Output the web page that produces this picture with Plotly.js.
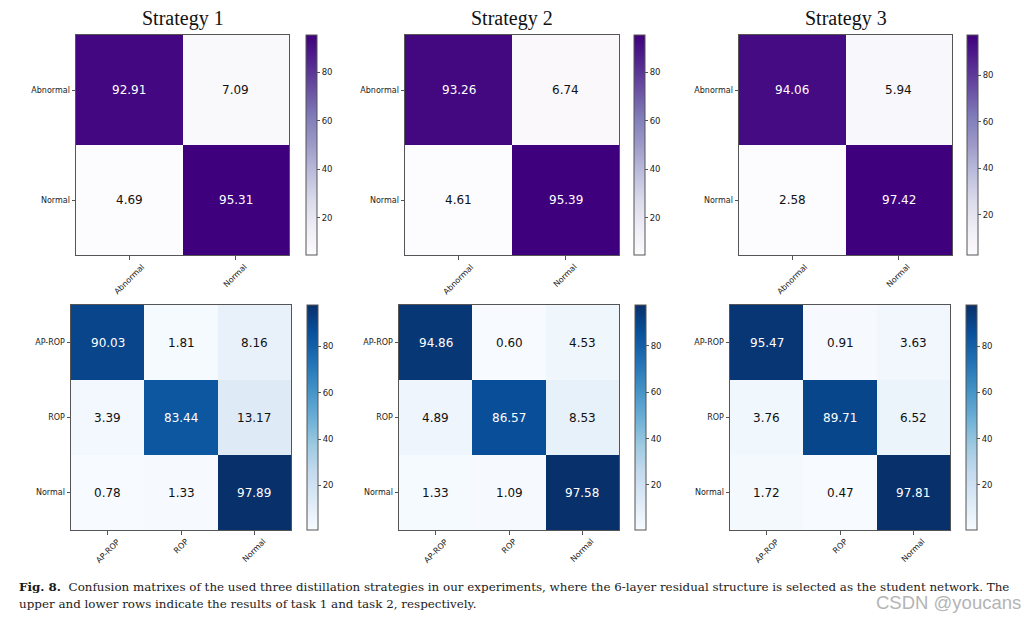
<!DOCTYPE html>
<html>
<head>
<meta charset="utf-8">
<script src="https://cdn.plot.ly/plotly-3.0.1.min.js"></script>
<style>html,body{margin:0;padding:0;background:#fff;}#chart{width:1024px;height:620px;}</style>
</head>
<body>
<div id="chart"></div>
<script>
// ---- data ----
const strategyTitles = ['Strategy 1', 'Strategy 2', 'Strategy 3'];
const task1Labels = ['Abnormal', 'Normal'];
const task2Labels = ['AP-ROP', 'ROP', 'Normal'];
const s1Task1 = [[92.91, 7.09], [4.69, 95.31]];
const s2Task1 = [[93.26, 6.74], [4.61, 95.39]];
const s3Task1 = [[94.06, 5.94], [2.58, 97.42]];
const s1Task2 = [[90.03, 1.81, 8.16], [3.39, 83.44, 13.17], [0.78, 1.33, 97.89]];
const s2Task2 = [[94.86, 0.60, 4.53], [4.89, 86.57, 8.53], [1.33, 1.09, 97.58]];
const s3Task2 = [[95.47, 0.91, 3.63], [3.76, 89.71, 6.52], [1.72, 0.47, 97.81]];
const colorbarTicks = [20, 40, 60, 80];
const captionLabel = 'Fig. 8.';
const captionLine1 = 'Confusion matrixes of the used three distillation strategies in our experiments, where the 6-layer residual structure is selected as the student network. The';
const captionLine2 = 'upper and lower rows indicate the results of task 1 and task 2, respectively.';
const watermark = 'CSDN @youcans';

// ---- layout geometry (pixels) ----
const W = 1024, H = 620;
const purples = [[0,'#fcfbfd'],[0.125,'#efedf5'],[0.25,'#dadaeb'],[0.375,'#bcbddc'],[0.5,'#9e9ac8'],[0.625,'#807dba'],[0.75,'#6a51a3'],[0.875,'#54278f'],[1,'#3f007d']];
const blues = [[0,'#f7fbff'],[0.125,'#deebf7'],[0.25,'#c6dbef'],[0.375,'#9ecae1'],[0.5,'#6baed6'],[0.625,'#4292c6'],[0.75,'#2171b5'],[0.875,'#08519c'],[1,'#08306b']];

const panels = [
  {z: s1Task1, labels: task1Labels, cs: purples, box: [76, 289, 35, 255], cb: 306},
  {z: s2Task1, labels: task1Labels, cs: purples, box: [405, 619, 35, 255], cb: 634},
  {z: s3Task1, labels: task1Labels, cs: purples, box: [739, 952, 35, 255], cb: 967},
  {z: s1Task2, labels: task2Labels, cs: blues, box: [71, 291, 305, 530], cb: 307},
  {z: s2Task2, labels: task2Labels, cs: blues, box: [399, 619, 305, 530], cb: 635},
  {z: s3Task2, labels: task2Labels, cs: blues, box: [730, 950, 305, 530], cb: 966}
];

const traces = [];
const layout = {
  width: W, height: H,
  margin: {l: 0, r: 0, t: 0, b: 0},
  paper_bgcolor: '#fff', plot_bgcolor: '#fff',
  showlegend: false,
  font: {family: 'DejaVu Sans', color: '#222'},
  annotations: []
};

panels.forEach((p, i) => {
  const n = i + 1;
  const xa = 'x' + (n === 1 ? '' : n), ya = 'y' + (n === 1 ? '' : n);
  const [l, r, t, b] = p.box;
  const flat = p.z.flat();
  const zmin = Math.min(...flat), zmax = Math.max(...flat);
  traces.push({
    type: 'heatmap',
    x: p.labels, y: p.labels, z: p.z,
    xaxis: xa, yaxis: ya,
    colorscale: p.cs, zmin: zmin, zmax: zmax,
    hoverinfo: 'skip',
    colorbar: {
      x: p.cb / W, xanchor: 'left', xpad: 0,
      y: 1 - (t + b) / 2 / H, yanchor: 'middle', ypad: 0,
      len: b - t, lenmode: 'pixels',
      thickness: 11, thicknessmode: 'pixels',
      outlinewidth: 1, outlinecolor: '#555',
      ticks: 'outside', ticklen: 3, tickcolor: '#555',
      tickvals: colorbarTicks,
      tickfont: {size: 8.5, family: 'DejaVu Sans', color: '#222'}
    }
  });
  const axCommon = {
    showline: true, mirror: true, linecolor: '#555', linewidth: 1,
    ticks: 'outside', ticklen: 3.5, tickcolor: '#555', tickwidth: 1,
    showgrid: false, zeroline: false, fixedrange: true,
    tickfont: {size: 8, family: 'DejaVu Sans', color: '#222'}
  };
  layout['xaxis' + (n === 1 ? '' : n)] = Object.assign({}, axCommon, {
    domain: [l / W, r / W], anchor: ya, type: 'category', showticklabels: false
  });
  layout['yaxis' + (n === 1 ? '' : n)] = Object.assign({}, axCommon, {
    domain: [1 - b / H, 1 - t / H], anchor: xa, autorange: 'reversed', type: 'category'
  });
  // rotated x tick labels, centred under each tick (matplotlib style)
  p.labels.forEach(lab => {
    layout.annotations.push({
      xref: xa, yref: 'paper', x: lab, y: 1 - (b + 6) / H,
      xanchor: 'center', yanchor: 'top', textangle: -45, showarrow: false,
      text: lab, borderpad: 0,
      font: {size: 8, family: 'DejaVu Sans', color: '#222'}
    });
  });
  // cell value labels
  p.z.forEach((row, ri) => {
    row.forEach((v, ci) => {
      layout.annotations.push({
        xref: xa, yref: ya, x: p.labels[ci], y: p.labels[ri],
        text: v.toFixed(2), showarrow: false,
        font: {size: 12, family: 'DejaVu Sans', color: v > zmax / 2 ? '#ffffff' : '#111111'}
      });
    });
  });
  if (i < 3) {
    layout.annotations.push({
      xref: 'paper', yref: 'paper', x: (l + r) / 2 / W, y: 1 - 18 / H,
      xanchor: 'center', yanchor: 'middle', showarrow: false,
      text: strategyTitles[i],
      font: {size: 20, family: 'Liberation Serif', color: '#111'}
    });
  }
});

layout.annotations.push({
  xref: 'paper', yref: 'paper', x: 17 / W, y: 1 - 587 / H,
  xanchor: 'left', yanchor: 'middle', showarrow: false,
  text: '<b>' + captionLabel + '</b>  ' + captionLine1,
  font: {size: 11.9, family: 'DejaVu Serif', color: '#1a1a1a'}
});
layout.annotations.push({
  xref: 'paper', yref: 'paper', x: 17 / W, y: 1 - 604 / H,
  xanchor: 'left', yanchor: 'middle', showarrow: false,
  text: captionLine2, font: {size: 11.9, family: 'DejaVu Serif', color: '#1a1a1a'}
});
layout.annotations.push({
  xref: 'paper', yref: 'paper', x: 1023 / W, y: 1 - 602 / H,
  xanchor: 'right', yanchor: 'middle', showarrow: false,
  text: watermark, font: {size: 18.5, family: 'Liberation Sans', color: '#b4b4b4'}
});

Plotly.newPlot('chart', traces, layout, {staticPlot: true, displayModeBar: false});
</script>
</body>
</html>
